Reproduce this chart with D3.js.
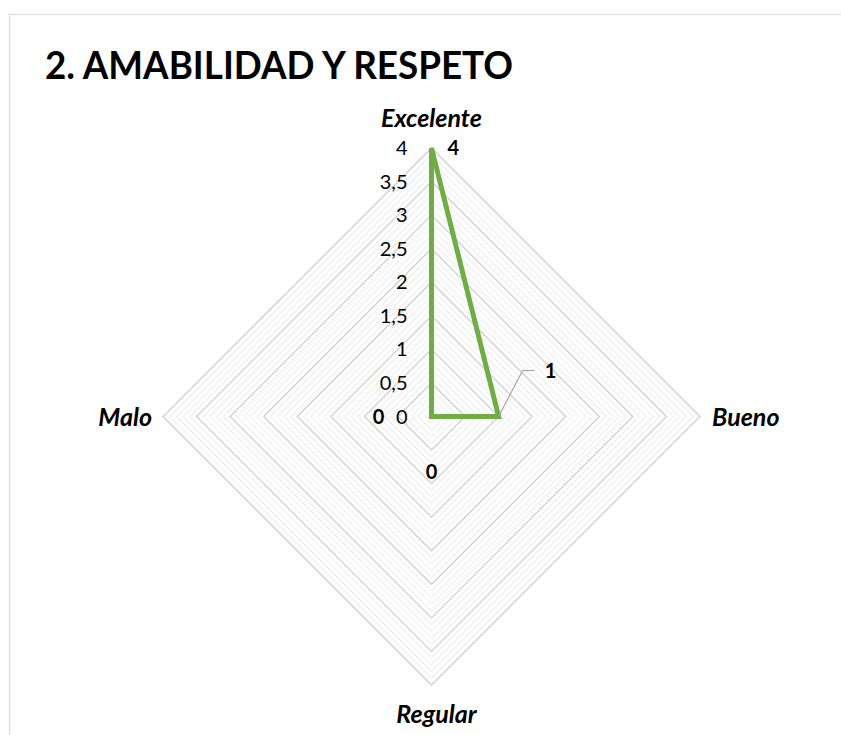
<!DOCTYPE html>
<html>
<head>
<meta charset="utf-8">
<script src="https://cdn.jsdelivr.net/npm/d3@7"></script>
<style>
  body { margin: 0; background: #fff; }
  text { font-family: Lato, "Open Sans", sans-serif; fill: #000; }
</style>
</head>
<body>
<div id="chart"></div>
<script>
// data
const chartTitle = "2. AMABILIDAD Y RESPETO";
const categories = ["Excelente", "Bueno", "Regular", "Malo"];
const values = [4, 1, 0, 0];
const tickValues = [0, 0.5, 1, 1.5, 2, 2.5, 3, 3.5, 4];

const width = 841, height = 735;
const cx = 431.5, cy = 416.5, radius = 268.5;

// spanish number format (0,5)
const esFormat = d3.formatLocale({decimal: ",", thousands: ".", grouping: [3], currency: ["", " €"]}).format("~g");

const svg = d3.select("#chart")
    .append("svg")
    .attr("width", width)
    .attr("height", height);

// chart border (goes past the right and bottom edge)
svg.append("rect")
    .attr("x", 9.5)
    .attr("y", 14.5)
    .attr("width", 900)
    .attr("height", 800)
    .style("fill", "#fff")
    .style("stroke", "#d9d9d9")
    .style("stroke-width", 1);

svg.append("text")
    .attr("x", 45)
    .attr("y", 79)
    .attr("textLength", 468)
    .attr("lengthAdjust", "spacingAndGlyphs")
    .style("font-size", "38px")
    .style("font-weight", "bold")
    .text(chartTitle);

let r = d3.scaleLinear()
    .domain([0, d3.max(tickValues)])
    .range([0, radius]);

let angle = d3.scaleLinear()
    .domain([0, categories.length])
    .range([-Math.PI / 2, 1.5 * Math.PI]);

function point(i, v) {
    let a = angle(i);
    return [cx + Math.cos(a) * r(v), cy + Math.sin(a) * r(v)];
}

const ring = d3.line().curve(d3.curveLinearClosed);

// grid: minor every 0.1, major every 0.5
let minorLevels = d3.range(1, 41).map(d => d / 10).filter(d => Math.round(d * 10) % 5 != 0);
let majorLevels = tickValues.filter(d => d > 0);

svg.append("g")
    .selectAll("path")
    .data(minorLevels)
    .join("path")
    .attr("d", v => ring(categories.map((c, i) => point(i, v))))
    .style("fill", "none")
    .style("stroke", "#e6e6e6")
    .style("stroke-width", 1);

svg.append("g")
    .selectAll("path")
    .data(majorLevels)
    .join("path")
    .attr("d", v => ring(categories.map((c, i) => point(i, v))))
    .style("fill", "none")
    .style("stroke", "#cfcfcf")
    .style("stroke-width", 1.3);

// value axis labels
svg.append("g")
    .selectAll("text")
    .data(tickValues)
    .join("text")
    .attr("x", cx - 24)
    .attr("y", v => cy - r(v) + 7)
    .attr("text-anchor", "end")
    .style("font-size", "20px")
    .text(v => esFormat(v));

// category labels
const catPad = [[0, -21], [12, 9], [5, 37.5], [-11, 9]];
const catAnchor = ["middle", "start", "middle", "end"];

svg.append("g")
    .selectAll("text")
    .data(categories)
    .join("text")
    .attr("x", (c, i) => point(i, d3.max(tickValues))[0] + catPad[i][0])
    .attr("y", (c, i) => point(i, d3.max(tickValues))[1] + catPad[i][1])
    .attr("text-anchor", (c, i) => catAnchor[i])
    .style("font-size", "25px")
    .style("font-weight", "bold")
    .style("font-style", "italic")
    .text(c => c);

// series
svg.append("path")
    .datum(values)
    .attr("d", ring(values.map((v, i) => point(i, v))))
    .style("fill", "none")
    .style("stroke", "#70ad47")
    .style("stroke-width", 5)
    .style("stroke-linejoin", "miter");

// data labels
const labelShift = [[16, 7], [46, -39], [0, 62], [-53, 7]];
const labelAnchor = ["start", "start", "middle", "middle"];

// leader line for the "Bueno" label
let pb = point(1, values[1]);
svg.append("path")
    .attr("d", d3.line()([pb, [pb[0] + 24, pb[1] - 46], [pb[0] + 36, pb[1] - 46]]))
    .style("fill", "none")
    .style("stroke", "#a6a6a6")
    .style("stroke-width", 1.2);

svg.append("g")
    .selectAll("text")
    .data(values)
    .join("text")
    .attr("x", (v, i) => point(i, v)[0] + labelShift[i][0])
    .attr("y", (v, i) => point(i, v)[1] + labelShift[i][1])
    .attr("text-anchor", (v, i) => labelAnchor[i])
    .style("font-size", "20px")
    .style("font-weight", "bold")
    .text(v => esFormat(v));
</script>
</body>
</html>
